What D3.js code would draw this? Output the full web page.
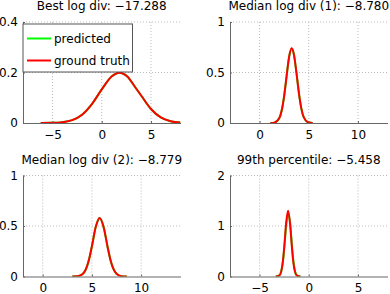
<!DOCTYPE html>
<html>
<head>
<meta charset="utf-8">
<script src="https://cdn.jsdelivr.net/npm/d3@7"></script>
<style>
body { margin: 0; background: #fff; }
text { font-family: "DejaVu Sans", sans-serif; font-size: 12px; fill: #000; }
</style>
</head>
<body>
<svg width="390" height="294"></svg>
<script>
'use strict';
// panel settings
const titles = ["Best log div: \u221217.288", "Median log div (1): \u22128.780",
	"Median log div (2): \u22128.779", "99th percentile: \u22125.458"]
const xDomains = [[-8, 8], [-3, 13], [-2, 14], [-8, 8]]
const yDomains = [[0, 0.4], [0, 1], [0, 1], [0, 2]]
const xTicks = [[-5, 0, 5], [0, 5, 10], [0, 5, 10], [-5, 0, 5]]
const yTicks = [[0, 0.2, 0.4], [0, 0.5, 1], [0, 0.5, 1], [0, 1, 2]]
const seriesNames = ["predicted", "ground truth"]

// curve samples per panel (x, predicted, ground truth)
const xs1 = [-6.2, -5, -4, -3, -2, -1, 0, 1, 1.8, 2.6, 3.4, 4, 5, 6, 7, 8]
const pred1 = [0.0001, 0.0006, 0.003, 0.0112, 0.0328, 0.0749, 0.133, 0.184, 0.1995, 0.184, 0.1415, 0.109, 0.0555, 0.022, 0.0068, 0.0016]
const truth1 = [0.0001, 0.0006, 0.003, 0.0112, 0.0328, 0.0749, 0.133, 0.184, 0.1995, 0.184, 0.1415, 0.109, 0.0555, 0.022, 0.0068, 0.0016]

const xs2 = [1.1, 1.5, 2.0, 2.25, 2.5, 2.75, 3.0, 3.27, 3.5, 3.75, 4.0, 4.25, 4.5, 5.0, 5.4]
const pred2 = [0.0002, 0.0034, 0.0465, 0.124, 0.267, 0.465, 0.652, 0.738, 0.675, 0.498, 0.296, 0.142, 0.0552, 0.0044, 0.0003]
const truth2 = [0.0002, 0.0034, 0.0465, 0.124, 0.267, 0.465, 0.652, 0.739, 0.675, 0.498, 0.296, 0.142, 0.0552, 0.0044, 0.0003]

const xs3 = [3.0, 3.5, 4.0, 4.5, 4.7, 5.0, 5.4, 5.79, 6.2, 6.6, 6.9, 7.5, 8.0, 8.55]
const pred3 = [0.0002, 0.0023, 0.0197, 0.100, 0.165, 0.300, 0.494, 0.579, 0.486, 0.290, 0.158, 0.0265, 0.0033, 0.0002]
const truth3 = [0.0002, 0.0023, 0.0197, 0.100, 0.165, 0.300, 0.494, 0.580, 0.486, 0.290, 0.158, 0.0265, 0.0033, 0.0002]

const xs4 = [-3.35, -3.0, -2.8, -2.6, -2.45, -2.3, -2.1, -1.9, -1.75, -1.6, -1.4, -1.2, -0.85]
const pred4 = [0.0005, 0.02, 0.10, 0.34, 0.64, 1.0, 1.23, 1.07, 0.72, 0.38, 0.11, 0.02, 0.0005]
const truth4 = [0.0003, 0.0177, 0.0966, 0.345, 0.679, 1.052, 1.30, 1.052, 0.679, 0.345, 0.0966, 0.0177, 0.0003]

const xsAll = [xs1, xs2, xs3, xs4]
const predAll = [pred1, pred2, pred3, pred4]
const truthAll = [truth1, truth2, truth3, truth4]

// layout
const lefts = [23, 230, 23, 230], tops = [22, 22, 175.5, 175.5]
const pW = 157.5, pH = 101
const colors = ["#00ff00", "#ff0000"]
const axisCol = "#666", gridCol = "#bbb"

let eSvg = d3.select("svg")

titles.forEach((title, i) => {
	let g = eSvg.append("g").attr("transform", `translate(${lefts[i]},${tops[i]})`)
	let x = d3.scaleLinear().domain(xDomains[i]).range([0, pW])
	let y = d3.scaleLinear().domain(yDomains[i]).range([pH, 0])

	// dotted grid
	g.append("g").selectAll("line").data(xTicks[i]).enter().append("line")
		.attr("x1", d => x(d)).attr("x2", d => x(d)).attr("y1", 0).attr("y2", pH)
		.attr("stroke", gridCol).attr("stroke-dasharray", "1,2")
	g.append("g").selectAll("line").data(yTicks[i].filter(d => d !== yDomains[i][0])).enter().append("line")
		.attr("x1", 0).attr("x2", pW).attr("y1", d => y(d)).attr("y2", d => y(d))
		.attr("stroke", gridCol).attr("stroke-dasharray", "1,2")

	// curves, clipped to the axes box
	let clipId = "clip" + i
	g.append("clipPath").attr("id", clipId).append("rect").attr("width", pW).attr("height", pH)
	let line = d3.line().x(d => x(d[0])).y(d => y(d[1])).curve(d3.curveMonotoneX)
	let sets = [predAll[i], truthAll[i]]
	sets.forEach((ys, k) => {
		g.append("path")
			.datum(xsAll[i].map((v, j) => [v, ys[j]]))
			.attr("clip-path", `url(#${clipId})`)
			.attr("fill", "none").attr("stroke", colors[k]).attr("stroke-width", 2)
			.attr("d", line)
	})

	// axes with small inward ticks
	let fmt = d => (d < 0 ? "\u2212" : "") + Math.abs(d)
	let ax = g.append("g").attr("transform", `translate(0,${pH})`)
		.call(d3.axisBottom(x).tickValues(xTicks[i]).tickFormat(fmt).tickSize(-2).tickSizeOuter(0).tickPadding(7))
	let ay = g.append("g")
		.call(d3.axisLeft(y).tickValues(yTicks[i]).tickFormat(fmt).tickSize(-2).tickSizeOuter(0).tickPadding(5))
	for (let a of [ax, ay]) {
		a.select(".domain").attr("stroke", axisCol)
		a.selectAll(".tick line").attr("stroke", axisCol)
		a.selectAll("text").attr("font-size", 12).attr("font-family", "DejaVu Sans").attr("fill", "#000")
	}

	g.append("text").attr("x", pW / 2).attr("y", -12).attr("text-anchor", "middle").text(title)

	// legend in the first panel
	if (i === 0) {
		let lg = g.append("g").attr("transform", "translate(0,2)")
		lg.append("rect").attr("width", 109.5).attr("height", 48)
			.attr("fill", "#fff").attr("stroke", "#555")
		seriesNames.forEach((name, k) => {
			let yy = 14.5 + k * 22
			lg.append("line").attr("x1", 4).attr("x2", 28).attr("y1", yy).attr("y2", yy)
				.attr("stroke", colors[k]).attr("stroke-width", 2)
			lg.append("text").attr("x", 31).attr("y", yy).attr("dy", "0.35em").text(name)
		})
	}
})
</script>
</body>
</html>
